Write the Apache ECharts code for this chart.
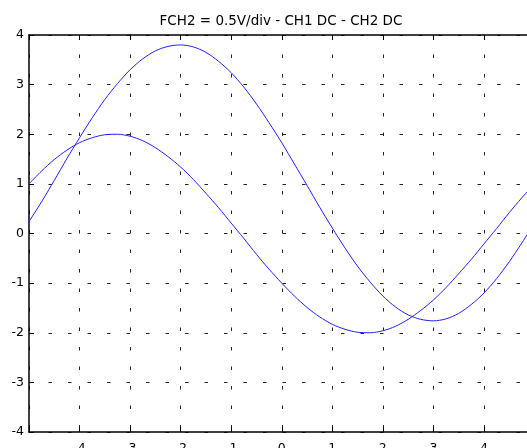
<!DOCTYPE html>
<html>
<head>
<meta charset="utf-8">
<script src="https://cdn.jsdelivr.net/npm/echarts@6/dist/echarts.min.js"></script>
<style>
  html, body { margin: 0; padding: 0; background: #fff; }
  #chart { width: 527px; height: 448px; }
</style>
</head>
<body>
<div id="chart"></div>
<script>
// sample positions (time axis, div)
const xValues = [-5, -4.75, -4.5, -4.25, -4, -3.75, -3.5, -3.25, -3, -2.75, -2.5, -2.25, -2, -1.75, -1.5, -1.25, -1, -0.75, -0.5, -0.25,
  0, 0.25, 0.5, 0.75, 1, 1.25, 1.5, 1.75, 2, 2.25, 2.5, 2.75, 3, 3.25, 3.5, 3.75, 4, 4.25, 4.5, 4.75, 5]
// smaller sine (amplitude 2)
const ch1 = [1.00, 1.26, 1.49, 1.68, 1.83, 1.93, 1.99, 2.00, 1.96, 1.87, 1.73, 1.55, 1.34, 1.09, 0.81, 0.52, 0.21, -0.10, -0.42, -0.72,
  -1.00, -1.26, -1.49, -1.68, -1.83, -1.93, -1.99, -2.00, -1.96, -1.87, -1.73, -1.55, -1.34, -1.09, -0.81, -0.52, -0.21, 0.10, 0.42, 0.72, 1.00]
// bigger sine (peak ~3.8, trough ~-1.76)
const ch2 = [0.24, 0.64, 1.07, 1.51, 1.93, 2.33, 2.70, 3.02, 3.30, 3.52, 3.68, 3.77, 3.80, 3.76, 3.65, 3.47, 3.24, 2.95, 2.61, 2.23,
  1.83, 1.40, 0.97, 0.53, 0.11, -0.29, -0.66, -0.98, -1.26, -1.48, -1.64, -1.73, -1.76, -1.72, -1.61, -1.43, -1.20, -0.91, -0.57, -0.19, 0.21]
const xTicks = [-4, -3, -2, -1, 0, 1, 2, 3, 4]
const yTicks = [-4, -3, -2, -1, 0, 1, 2, 3, 4]
const titleText = 'FCH2 = 0.5V/div - CH1 DC - CH2 DC'

const fontFamily = '"DejaVu Sans", sans-serif'
const gridDash = {
  show: true,
  lineStyle: { color: '#222', width: 1, type: [3.5, 16] }
}

function pairs(ys) {
  return xValues.map((x, i) => [x, ys[i]])
}

const chart = echarts.init(document.getElementById('chart'))
const option = {
  animation: false,
  title: {
    text: titleText,
    left: 281,
    top: 14,
    padding: 0,
    textAlign: 'center',
    textStyle: { fontFamily: fontFamily, fontSize: 13.5, fontWeight: 'normal', color: '#000' }
  },
  grid: {
    left: 29,
    right: -7.5,
    top: 35,
    bottom: 16,
    containLabel: false,
    outerBoundsMode: 'none'
  },
  xAxis: [{
    type: 'value',
    min: -5,
    max: 5,
    interval: 1,
    position: 'bottom',
    axisLine: { show: true, onZero: false, lineStyle: { color: '#000', width: 1.5 } },
    axisTick: { show: true, inside: true, length: 5, lineStyle: { color: '#000' } },
    axisLabel: {
      margin: 10,
      color: '#000',
      fontFamily: fontFamily,
      fontSize: 12.5,
      formatter: (v) => (xTicks.indexOf(v) >= 0 ? String(v) : '')
    },
    splitLine: gridDash
  }, {
    type: 'value',
    min: -5,
    max: 5,
    interval: 1,
    position: 'top',
    axisLine: { show: true, onZero: false, lineStyle: { color: '#000', width: 1.5 } },
    axisTick: { show: true, inside: true, length: 5, lineStyle: { color: '#000' } },
    axisLabel: { show: false },
    splitLine: { show: false }
  }],
  yAxis: {
    type: 'value',
    min: -4,
    max: 4,
    interval: 1,
    axisLine: { show: true, onZero: false, lineStyle: { color: '#000', width: 1.5 } },
    axisTick: { show: true, inside: true, length: 5, lineStyle: { color: '#000' } },
    axisLabel: {
      margin: 5,
      color: '#000',
      fontFamily: fontFamily,
      fontSize: 12.5,
      formatter: (v) => (yTicks.indexOf(v) >= 0 ? String(v) : '')
    },
    splitLine: gridDash
  },
  series: [{
    name: 'CH1',
    type: 'line',
    data: pairs(ch1),
    smooth: 0.3,
    showSymbol: false,
    lineStyle: { color: '#2020ff', width: 1 }
  }, {
    name: 'CH2',
    type: 'line',
    data: pairs(ch2),
    smooth: 0.3,
    showSymbol: false,
    lineStyle: { color: '#2020ff', width: 1 }
  }]
}
chart.setOption(option)
</script>
</body>
</html>
